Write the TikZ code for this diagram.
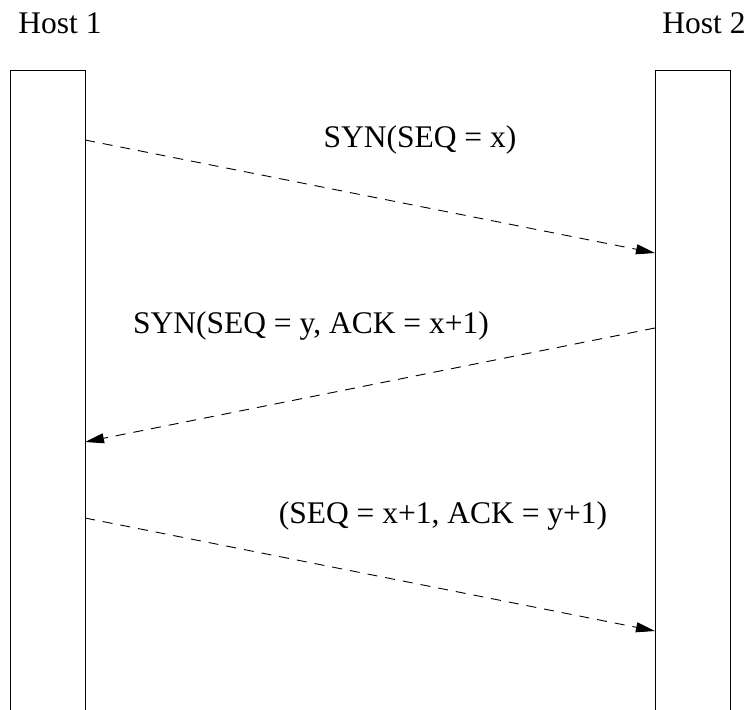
\documentclass[tikz,border=0pt]{standalone}
\usepackage{fontspec}
\setmainfont{Liberation Serif}
\usetikzlibrary{arrows.meta}
\begin{document}
\begin{tikzpicture}[x=1pt,y=-1pt,
  lbl/.style={font=\fontsize{31.5}{36}\selectfont, inner sep=0pt, anchor=base},
  bar/.style={draw=black, line width=1pt},
  msg/.style={draw=black, line width=0.9pt, dash pattern=on 10pt off 8pt,
    -{Triangle[length=19pt,width=10pt]}}]
\useasboundingbox (0,0) rectangle (751,709);
\clip (0,0) rectangle (751,709);
% host labels
\node[lbl] (h1) at (60,34) {Host 1};
\node[lbl] (h2) at (704,34) {Host 2};
% bars
\draw[bar] (10,720) -- (10,70) -- (85,70) -- (85,720);
\draw[bar] (655,720) -- (655,70) -- (730,70) -- (730,720);
% endpoints
\coordinate (a1) at (85,140);
\coordinate (b1) at (655,253);
\coordinate (b2) at (655,328);
\coordinate (a2) at (85,442);
\coordinate (a3) at (85,518);
\coordinate (b3) at (655,631);
\draw[msg] (a1) -- (b1);
\draw[msg] (b2) -- (a2);
\draw[msg] (a3) -- (b3);
% labels
\node[lbl] (m1) at (420,147) {SYN(SEQ = x)};
\node[lbl] (m2) at (311,333) {SYN(SEQ = y, ACK = x+1)};
\node[lbl] (m3) at (443,523) {(SEQ = x+1, ACK = y+1)};
\end{tikzpicture}
\end{document}
